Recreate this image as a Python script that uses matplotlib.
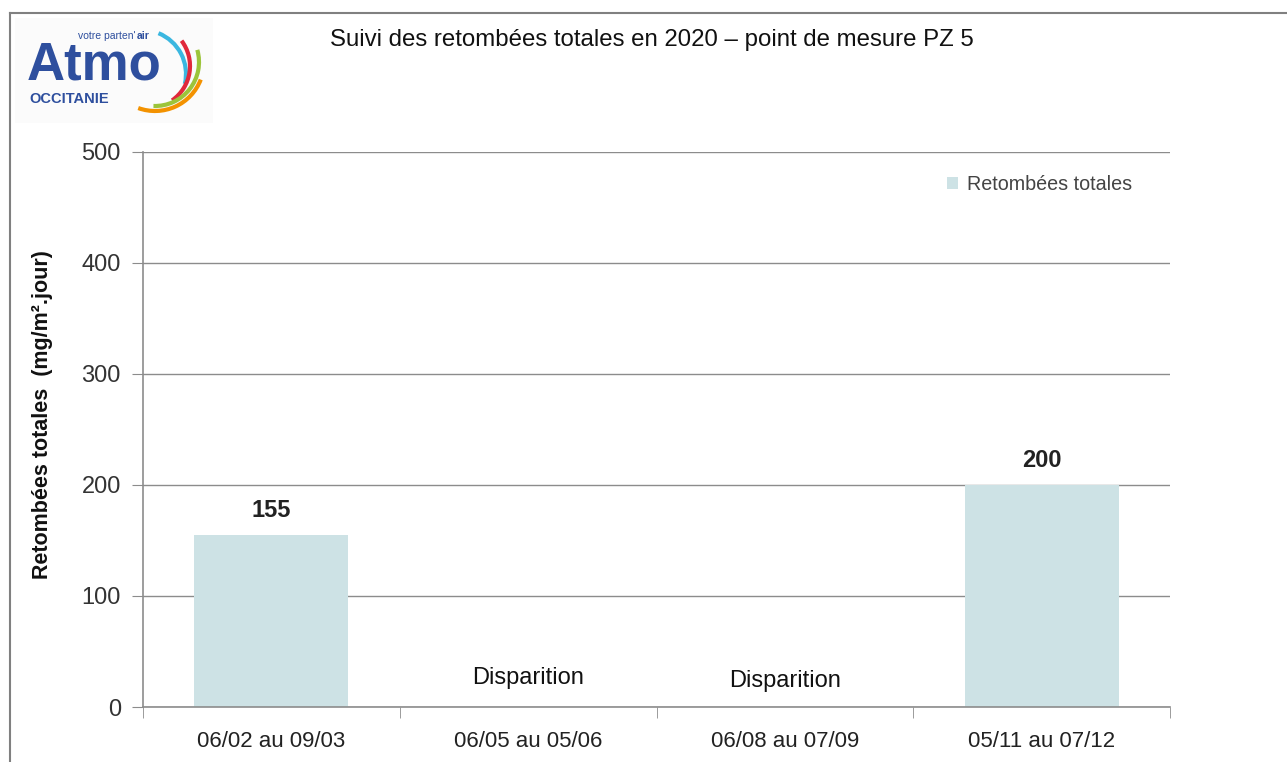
import matplotlib
matplotlib.use("Agg")
import matplotlib.pyplot as plt
from matplotlib.patches import Arc, Rectangle
from matplotlib.lines import Line2D
import numpy as np

plt.rcParams['font.family'] = ['Liberation Sans Narrow', 'Liberation Sans', 'DejaVu Sans']

# --- data ---
PERIODS = ["06/02 au 09/03", "06/05 au 05/06", "06/08 au 07/09", "05/11 au 07/12"]
VALUES = [155, np.nan, np.nan, 200]
LABELS = ["155", "Disparition", "Disparition", "200"]
YTICKS = [0, 100, 200, 300, 400, 500]

BAR_COLOR = "#cde2e5"
GRID = "#8c8c8c"

W, H = 1287, 762
fig = plt.figure(figsize=(W / 100, H / 100), dpi=100)

# outer frame (top + left edges visible)
fig.add_artist(Line2D([10 / W, 1], [1 - 13 / H] * 2, color="#808080", lw=1.5))
fig.add_artist(Line2D([10 / W] * 2, [0, 1 - 13 / H], color="#808080", lw=1.5))

ax = fig.add_axes([143 / W, 1 - 707 / H, (1170 - 143) / W, (707 - 152) / H])
x = np.arange(len(PERIODS))
vals = np.nan_to_num(np.array(VALUES, dtype=float))
ax.bar(x, vals, width=0.6, color=BAR_COLOR, label="Retombées totales", zorder=2)

for i, (v, lab) in enumerate(zip(VALUES, LABELS)):
    if np.isnan(v):
        off = 26 if i == 1 else 23
        ax.text(i, off, lab, ha="center", va="center", fontsize=17, color="#111111")
    else:
        ax.text(i, v + 12, lab, ha="center", va="bottom", fontsize=17,
                fontweight="bold", color="#222222")

ax.set_xlim(-0.5, len(PERIODS) - 0.5)
ax.set_ylim(0, 500)
ax.set_yticks(YTICKS)
ax.set_yticklabels([str(t) for t in YTICKS], fontsize=17, color="#333333")
ax.set_xticks(x)
ax.set_xticklabels(PERIODS, fontsize=16, color="#222222")
ax.set_xticks(np.arange(len(PERIODS) + 1) - 0.5, minor=True)
ax.tick_params(axis="x", which="major", length=0, pad=17)
ax.tick_params(axis="x", which="minor", length=8, color=GRID, direction="out")
ax.tick_params(axis="y", length=8, color=GRID, direction="out", pad=8)
ax.grid(axis="y", color=GRID, lw=1, zorder=0)
ax.set_axisbelow(True)
for s in ["top", "right"]:
    ax.spines[s].set_visible(False)
for s in ["left", "bottom"]:
    ax.spines[s].set_color(GRID)
    ax.spines[s].set_linewidth(1.2)

ax.set_ylabel("Retombées totales  (mg/m².jour)", fontsize=15.5, fontweight="bold",
              color="#111111")
ax.yaxis.set_label_coords(-0.088, (707 - 415) / 555)

leg = ax.legend(loc="upper right", bbox_to_anchor=(0.98, 0.99), frameon=False,
                fontsize=14.2, handlelength=0.55, handleheight=0.55, handletextpad=0.45)
for t in leg.get_texts():
    t.set_color("#444444")

fig.text(652 / W, 1 - 40 / H, "Suivi des retombées totales en 2020 – point de mesure PZ 5",
         ha="center", va="center", fontsize=17.3, color="#111111")

# --- logo ---
LOGO_BLUE = "#2e4f9e"
lf = ["Liberation Sans", "DejaVu Sans"]
lax = fig.add_axes([15 / W, 1 - 123 / H, 198 / W, 105 / H])
lax.set_xlim(0, 198)
lax.set_ylim(105, 0)
lax.axis("off")
lax.add_patch(Rectangle((0, 0), 198, 105, color="#fbfbfb", zorder=0))
lax.text(12, 61, "Atmo", fontsize=38, fontweight="bold", color=LOGO_BLUE,
         family=lf, va="baseline")
lax.text(14, 85, "OCCITANIE", fontsize=10.5, fontweight="bold", color=LOGO_BLUE,
         family=lf, va="baseline")
lax.text(121, 21, "votre parten'", fontsize=7.5, color=LOGO_BLUE,
         family=lf, va="baseline", ha="right")
lax.text(122, 21, "air", fontsize=7.5, fontweight="bold", color=LOGO_BLUE,
         family=lf, va="baseline", ha="left")
for cx, cy, r, th1, th2, c in [(127, 56, 44, -68, 13, "#3ab7e0"),
                               (133, 48, 42, -37, 55, "#e0283b"),
                               (140, 44, 44, -16, 92, "#9cc43a"),
                               (140, 44, 49, 21, 110, "#f39200")]:
    lax.add_patch(Arc((cx, cy), 2 * r, 2 * r, theta1=th1, theta2=th2,
                      color=c, lw=3))

fig.savefig("out.png", dpi=100)
